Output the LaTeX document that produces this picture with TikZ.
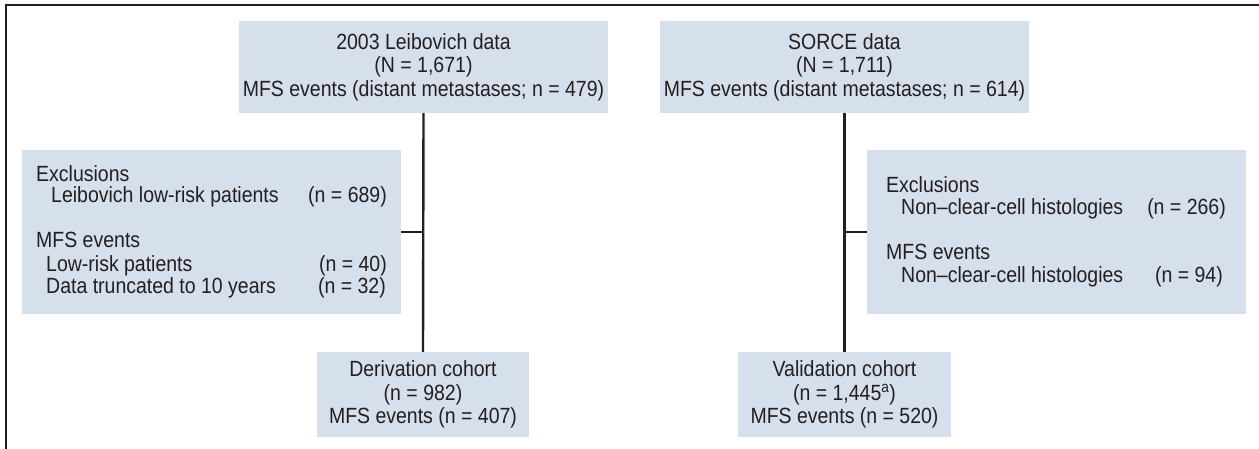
\documentclass[tikz,border=0pt]{standalone}
\usepackage{fontspec}
\setmainfont{Liberation Sans}[FakeStretch=0.886]
\definecolor{boxfill}{RGB}{214,223,236}
\definecolor{ink}{RGB}{35,31,32}
\begin{document}
\begin{tikzpicture}[x=1pt,y=-1pt,
  every node/.style={font=\fontsize{22}{23.5}\selectfont, text=ink},
  box/.style={fill=boxfill, inner sep=0pt, align=center},
  conn/.style={draw=ink, line width=2.4pt},
  frameline/.style={draw=ink, line width=1.8pt},
  lt/.style={anchor=base west, inner sep=0pt},
  rt/.style={anchor=base east, inner sep=0pt}]
\useasboundingbox (0,0) rectangle (1259,449);
% frame (top and left only)
\coordinate (fTR) at (1259,5);
\coordinate (fTL) at (6,5);
\coordinate (fBL) at (6,449);
\draw[frameline] (fTR) -- (fTL) -- (fBL);
% top boxes
\node[box, minimum width=369pt, minimum height=92pt] (A) at (423.5,67)
  {2003 Leibovich data\\(N = 1,671)\\MFS events (distant metastases; n = 479)};
\node[box, minimum width=369pt, minimum height=92pt] (B) at (844.5,67)
  {SORCE data\\(N = 1,711)\\MFS events (distant metastases; n = 614)};
% exclusion boxes
\node[box, minimum width=379pt, minimum height=164pt] (C) at (211.5,232) {};
\node[box, minimum width=379pt, minimum height=164pt] (E) at (1056.5,232) {};
% bottom boxes
\node[box, minimum width=212pt, minimum height=85pt] (D) at (423,394.5)
  {Derivation cohort\\(n = 982)\\MFS events (n = 407)};
\node[box, minimum width=213pt, minimum height=85pt] (F) at (844.5,394.5)
  {Validation cohort\\(n = 1,445\textsuperscript{a})\\MFS events (n = 520)};
% texts of C
\node[lt] (c1) at (36,182) {Exclusions};
\node[lt] (c2) at (51,203) {Leibovich low-risk patients};
\node[rt] (c3) at (387,203) {(n = 689)};
\node[lt] (c4) at (36,248) {MFS events};
\node[lt] (c5) at (46,272) {Low-risk patients};
\node[rt] (c6) at (387,272) {(n = 40)};
\node[lt] (c7) at (46,294) {Data truncated to 10 years};
\node[rt] (c8) at (386,294) {(n = 32)};
% texts of E
\node[lt] (e1) at (886,193) {Exclusions};
\node[lt] (e2) at (901,215) {Non\textendash clear-cell histologies};
\node[rt] (e3) at (1226,215) {(n = 266)};
\node[lt] (e4) at (886,260) {MFS events};
\node[lt] (e5) at (901,283) {Non\textendash clear-cell histologies};
\node[rt] (e6) at (1223,283) {(n = 94)};
% connectors
\draw[conn] (A.south) -- (D.north);
\draw[conn] (B.south) -- (F.north);
\draw[conn] (C.east) -- (C.east -| A.south);
\draw[conn] (E.west) -- (E.west -| B.south);
\end{tikzpicture}
\end{document}
